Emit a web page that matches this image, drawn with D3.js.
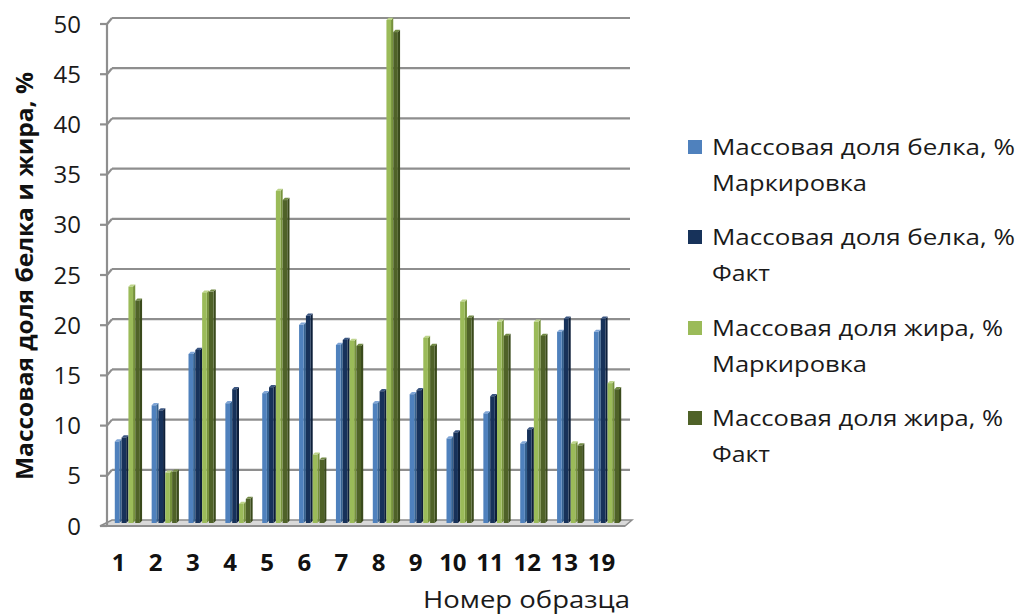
<!DOCTYPE html>
<html><head><meta charset="utf-8">
<script src="https://cdn.jsdelivr.net/npm/d3@7/dist/d3.min.js"></script>
<style>body{margin:0;background:#fff}svg{display:block}</style>
</head><body>
<svg id="c" width="1018" height="616"></svg>
<script>
const categories = ["1","2","3","4","5","6","7","8","9","10","11","12","13","19"];
const proteinLabel = [8.1, 11.7, 16.8, 11.9, 12.9, 19.7, 17.7, 11.9, 12.8, 8.4, 10.9, 7.9, 19.0, 19.0];
const proteinFact  = [8.5, 11.2, 17.2, 13.3, 13.5, 20.6, 18.2, 13.1, 13.2, 9.0, 12.6, 9.3, 20.3, 20.3];
const fatLabel     = [23.5, 5.0, 22.9, 1.9, 33.0, 6.8, 18.1, 50.0, 18.4, 22.0, 20.0, 20.0, 7.9, 13.9];
const fatFact      = [22.1, 5.1, 23.0, 2.4, 32.1, 6.3, 17.6, 48.8, 17.6, 20.4, 18.6, 18.6, 7.7, 13.3];
const seriesNames = ["Массовая доля белка, % Маркировка","Массовая доля белка, % Факт","Массовая доля жира, % Маркировка","Массовая доля жира, % Факт"];
const yTicks = [0,5,10,15,20,25,30,35,40,45,50];

const series = [proteinLabel, proteinFact, fatLabel, fatFact];
const colors = [
  {front:"#4F81BD", side:"#35618F", top:"#7FA5D6"},
  {front:"#17325A", side:"#0D1F3A", top:"#3A5580"},
  {front:"#9BBB59", side:"#76923C", top:"#BDD48A"},
  {front:"#4F6228", side:"#3A4A1C", top:"#728A45"}
];
const font = "'Open Sans', 'Noto Sans', sans-serif";
const svg = d3.select("#c");

const yBack = d3.scaleLinear().domain([0,50]).range([520,18]);
const yBar  = d3.scaleLinear().domain([0,50]).range([523,20]);
const FDX = -5, FDY = 6;
const wallL = 112, wallR = 630;

const x = d3.scaleBand().domain(categories).range([110,626]).paddingInner(0.26).paddingOuter(0.13);
const xs = d3.scaleBand().domain(d3.range(4)).range([0, x.bandwidth()]);
const xFront = d3.scaleBand().domain(categories).range([100,620]);

const g = svg.append("g");
g.append("path")
  .attr("d", `M${wallL+FDX-7},${yBack(0)+FDY} L${wallR-5},${yBack(0)+FDY} L${wallR+2},${yBack(0)} L${wallL},${yBack(0)} Z`)
  .attr("fill","#d9d9d9").attr("stroke","#8c8c8c").attr("stroke-width",1.5);

yTicks.forEach(t=>{
  if(t===0) return;
  g.append("line").attr("x1",wallL).attr("x2",wallR).attr("y1",yBack(t)).attr("y2",yBack(t))
    .attr("stroke","#8e8e8e").attr("stroke-width",2.2);
  g.append("line").attr("x1",wallL+FDX).attr("x2",wallL).attr("y1",yBack(t)+FDY).attr("y2",yBack(t))
    .attr("stroke","#8e8e8e").attr("stroke-width",2.2);
});
g.append("line").attr("x1",wallL+FDX).attr("x2",wallL+FDX).attr("y1",yBack(0)+FDY).attr("y2",yBack(50)+FDY)
  .attr("stroke","#8e8e8e").attr("stroke-width",2.2);
yTicks.forEach(t=>{
  g.append("line").attr("x1",wallL+FDX-7).attr("x2",wallL+FDX).attr("y1",yBack(t)+FDY).attr("y2",yBack(t)+FDY)
    .attr("stroke","#8e8e8e").attr("stroke-width",2.2);
  g.append("text").attr("x",81).attr("y",yBack(t)+FDY).attr("dy","0.36em").attr("text-anchor","end")
    .attr("font-family",font).attr("font-size",24).attr("fill","#1a1a1a").text(t);
});
g.append("line").attr("x1",wallL+FDX-7).attr("x2",wallR-5).attr("y1",yBack(0)+FDY).attr("y2",yBack(0)+FDY)
  .attr("stroke","#8e8e8e").attr("stroke-width",2.2);

const D = 2.2;
categories.forEach((c,i)=>{
  series.forEach((s,k)=>{
    const v = s[i];
    const x0 = x(c) + xs(k);
    const w = xs.bandwidth() - D;
    const yt = yBar(v), yb = yBar(0);
    const col = colors[k];
    g.append("path").attr("d",`M${x0+w},${yt} L${x0+w+D},${yt-D} L${x0+w+D},${yb-D} L${x0+w},${yb} Z`).attr("fill",col.side);
    g.append("path").attr("d",`M${x0},${yt} L${x0+D},${yt-D} L${x0+w+D},${yt-D} L${x0+w},${yt} Z`).attr("fill",col.top);
    g.append("rect").attr("x",x0).attr("y",yt).attr("width",w).attr("height",yb-yt).attr("fill",col.front);
  });
});

categories.forEach(c=>{
  g.append("text").attr("x",xFront(c)+xFront.bandwidth()/2).attr("y",562).attr("dy","0.36em")
    .attr("text-anchor","middle").attr("font-family",font).attr("font-weight","bold").attr("font-size",24).attr("fill","#111").text(c);
});

svg.append("text").attr("transform","translate(24,276) rotate(-90)").attr("text-anchor","middle").attr("dy","0.36em")
  .attr("font-family",font).attr("font-weight","bold").attr("font-size",24).attr("fill","#111")
  .attr("textLength",408).attr("lengthAdjust","spacingAndGlyphs").text("Массовая доля белка и жира, %");
svg.append("text").attr("x",423).attr("y",599).attr("dy","0.36em")
  .attr("font-family",font).attr("font-size",24).attr("fill","#1a1a1a")
  .attr("textLength",207).attr("lengthAdjust","spacingAndGlyphs").text("Номер образца");

const legY = [147, 237, 328, 418];
const legW1 = [303, 303, 291, 291];
seriesNames.forEach((n,k)=>{
  const parts = n.split("% ");
  svg.append("rect").attr("x",688).attr("y",legY[k]-7).attr("width",14).attr("height",14).attr("fill",colors[k].front);
  const l2w = parts[1] === "Факт" ? 58 : 155;
  svg.append("text").attr("x",712).attr("y",legY[k]).attr("dy","0.36em")
    .attr("font-family",font).attr("font-size",22).attr("fill","#1a1a1a")
    .attr("textLength",legW1[k]).attr("lengthAdjust","spacingAndGlyphs").text(parts[0]+"%");
  svg.append("text").attr("x",712).attr("y",legY[k]+36).attr("dy","0.36em")
    .attr("font-family",font).attr("font-size",22).attr("fill","#1a1a1a")
    .attr("textLength",l2w).attr("lengthAdjust","spacingAndGlyphs").text(parts[1]);
});
</script>
</body></html>
